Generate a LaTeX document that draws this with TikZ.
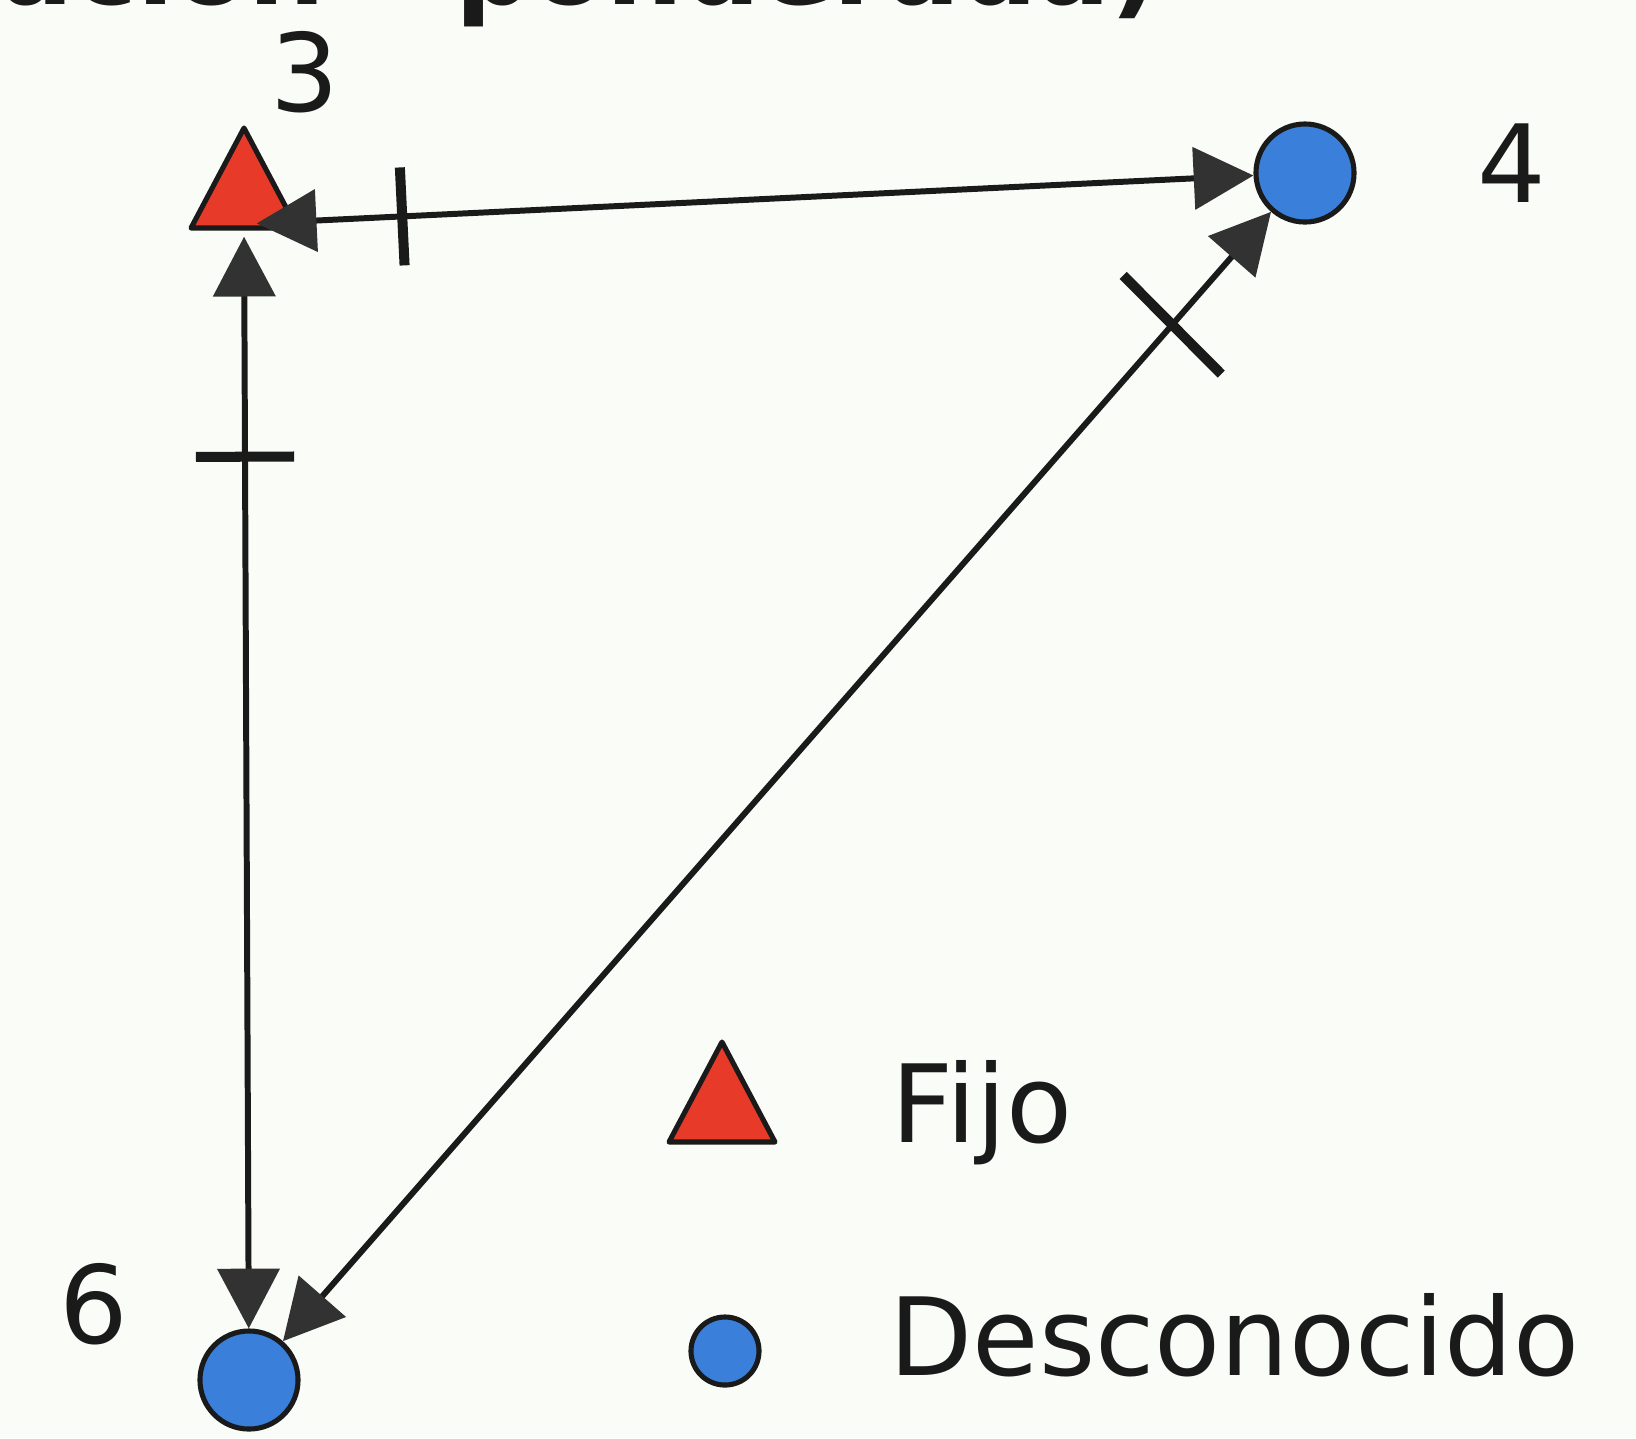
\documentclass[tikz,border=0pt]{standalone}
\usepackage{fontspec}
\setmainfont{DejaVu Sans}
\usetikzlibrary{arrows.meta}

\definecolor{fondo}{RGB}{250,252,248}
\definecolor{rojo}{RGB}{232,58,40}
\definecolor{azul}{RGB}{58,128,218}
\definecolor{trazo}{RGB}{26,26,26}
\definecolor{punta}{RGB}{50,50,50}

\tikzset{
  texto/.style={inner sep=0pt, font=\fontsize{30.7}{36}\selectfont, text=trazo},
  desconocido/.style={circle, draw=trazo, line width=1.45pt, fill=azul,
    minimum size=0.98cm, inner sep=0pt},
  enlace/.style={draw=trazo, line width=1.7pt,
    {Triangle[length=17pt,width=17.5pt,color=punta]}-{Triangle[length=17pt,width=17.5pt,color=punta]}},
  marca/.style={sloped, fill=trazo, draw=none, inner sep=0pt,
    minimum width=2.85pt, minimum height=0.98cm},
  marcalarga/.style={marca, minimum height=1.39cm, rotate=-4},
  pics/fijo/.style={code={
    \draw[draw=trazo, line width=1.45pt, line join=round, fill=rojo]
      (-53,0) -- (53,0) -- (0,-100) -- cycle;}}
}

\begin{document}
\begin{tikzpicture}[x=0.01cm, y=-0.01cm]
\useasboundingbox (0,0) rectangle (1636,1438);
\fill[fondo] (0,0) rectangle (1636,1438);
\clip (0,0) rectangle (1636,1438);

% heading, running off the top edge
\node[texto, anchor=base west, font=\fontsize{30.7}{36}\selectfont\bfseries]
  (titulo) at (0,4) {ación\hspace{1.2em}ponderada)};

% stations: 3 fixed, 4 and 6 unknown
\pic (tri3) at (244,228) {fijo};
\node[circle, minimum size=0.24cm, inner sep=0pt] (n3) at (244,224) {};
\node[desconocido] (n4) at (1305,173) {};
\node[desconocido] (n6) at (249,1380) {};

\node[texto] (l3) at (305,72) {3};
\node[texto] (l4) at (1512,163) {4};
\node[texto] (l6) at (94,1304) {6};

% observations between stations, each with a cross mark
\draw[enlace] (n3) -- node[marca, pos=0.146] (m34) {} (n4);
\draw[enlace] (n3) -- node[marca, pos=0.2015] (m36) {} (n6);
\draw[enlace] (n4) -- node[marcalarga, pos=0.10] (m46) {} (n6);

% legend
\pic (leyTri) at (722,1142) {fijo};
\node[desconocido, minimum size=0.68cm] (leyCirc) at (725,1351) {};
\node[texto, anchor=base west] (leyFijo) at (891,1142) {Fijo};
\node[texto, anchor=base west] (leyDesc) at (889,1375) {Desconocido};
\end{tikzpicture}
\end{document}
